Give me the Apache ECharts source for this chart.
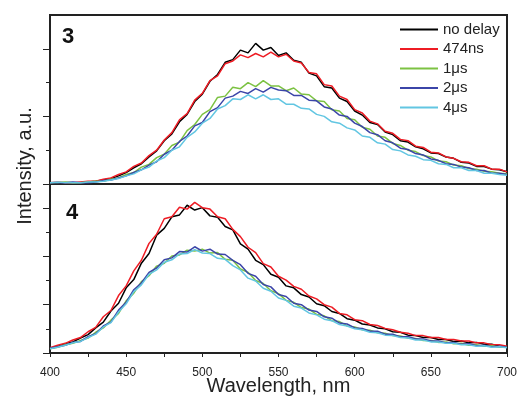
<!DOCTYPE html>
<html>
<head>
<meta charset="utf-8">
<script src="https://cdn.jsdelivr.net/npm/echarts@6/dist/echarts.min.js"></script>
<style>html,body{margin:0;padding:0;background:#fff}#c{width:517px;height:396px}</style>
</head>
<body>
<div id="c"></div>
<script>
var wavelengths = [400,405,410,415,420,425,430,435,440,445,450,455,460,465,470,475,480,485,490,495,500,505,510,515,520,525,530,535,540,545,550,555,560,565,570,575,580,585,590,595,600,605,610,615,620,625,630,635,640,645,650,655,660,665,670,675,680,685,690,695,700];
var seriesNames = ['no delay','474ns','1\u03bcs','2\u03bcs','4\u03bcs'];
var xTicks = [400,450,500,550,600,650,700];

// Panel 3 (top)
var p3_noDelay = [0.02,0.02,0.01,0.02,0.02,0.03,0.04,0.06,0.08,0.12,0.17,0.24,0.30,0.40,0.49,0.64,0.74,0.92,1.03,1.22,1.33,1.52,1.62,1.80,1.84,1.98,1.94,2.08,1.98,2.02,1.90,1.94,1.83,1.80,1.64,1.60,1.44,1.42,1.27,1.22,1.08,1.02,0.91,0.88,0.77,0.73,0.64,0.62,0.55,0.52,0.46,0.45,0.40,0.38,0.32,0.31,0.26,0.26,0.22,0.21,0.18];
var p3_474ns = [0.02,0.03,0.02,0.02,0.03,0.04,0.04,0.07,0.09,0.14,0.18,0.26,0.31,0.42,0.50,0.65,0.76,0.95,1.04,1.24,1.34,1.53,1.60,1.78,1.82,1.91,1.87,1.93,1.88,1.95,1.88,1.92,1.82,1.79,1.65,1.63,1.47,1.45,1.30,1.25,1.10,1.05,0.93,0.89,0.78,0.75,0.66,0.64,0.56,0.54,0.47,0.46,0.40,0.38,0.33,0.32,0.27,0.27,0.22,0.22,0.18];
var p3_1us = [0.02,0.02,0.03,0.02,0.02,0.03,0.04,0.04,0.07,0.09,0.14,0.17,0.25,0.29,0.39,0.44,0.57,0.62,0.79,0.88,1.03,1.10,1.28,1.30,1.43,1.41,1.50,1.44,1.53,1.45,1.45,1.38,1.42,1.33,1.32,1.23,1.22,1.10,1.08,0.97,0.95,0.84,0.81,0.71,0.69,0.60,0.57,0.50,0.48,0.42,0.40,0.34,0.33,0.28,0.27,0.23,0.22,0.19,0.18,0.16,0.15];
var p3_2us = [0.02,0.02,0.02,0.03,0.02,0.02,0.03,0.05,0.06,0.09,0.12,0.17,0.21,0.28,0.33,0.44,0.50,0.63,0.71,0.86,0.91,1.07,1.13,1.27,1.30,1.37,1.34,1.41,1.36,1.43,1.39,1.38,1.31,1.31,1.24,1.23,1.14,1.11,1.02,1.00,0.90,0.85,0.76,0.73,0.64,0.61,0.53,0.51,0.45,0.43,0.37,0.35,0.30,0.29,0.25,0.24,0.20,0.20,0.16,0.16,0.14];
var p3_4us = [0.02,0.03,0.02,0.02,0.02,0.03,0.03,0.04,0.06,0.08,0.12,0.15,0.21,0.25,0.34,0.39,0.50,0.55,0.69,0.77,0.90,0.97,1.11,1.16,1.26,1.25,1.32,1.26,1.32,1.25,1.26,1.18,1.18,1.12,1.11,1.03,1.00,0.92,0.90,0.83,0.80,0.71,0.69,0.61,0.59,0.51,0.49,0.43,0.41,0.36,0.35,0.30,0.29,0.24,0.24,0.20,0.20,0.16,0.16,0.14,0.13];

// Panel 4 (bottom)
var p4_noDelay = [0.10,0.13,0.19,0.23,0.31,0.38,0.52,0.64,0.87,1.03,1.35,1.52,1.86,2.06,2.44,2.58,2.82,2.86,3.06,2.96,3.01,2.84,2.81,2.62,2.55,2.26,2.15,1.92,1.83,1.63,1.57,1.39,1.35,1.21,1.16,1.02,0.98,0.86,0.82,0.71,0.68,0.60,0.58,0.52,0.50,0.44,0.43,0.37,0.36,0.32,0.32,0.28,0.28,0.24,0.25,0.21,0.22,0.18,0.18,0.14,0.13];
var p4_474ns = [0.11,0.16,0.20,0.27,0.32,0.44,0.53,0.75,0.88,1.19,1.39,1.70,1.92,2.27,2.46,2.78,2.82,3.02,2.98,3.12,3.01,2.98,2.82,2.78,2.56,2.41,2.19,2.08,1.85,1.78,1.59,1.51,1.38,1.32,1.18,1.12,1.00,0.95,0.82,0.79,0.69,0.67,0.59,0.57,0.51,0.48,0.43,0.41,0.36,0.36,0.32,0.32,0.28,0.28,0.25,0.25,0.21,0.21,0.17,0.17,0.14];
var p4_1us = [0.09,0.12,0.17,0.20,0.26,0.31,0.43,0.52,0.68,0.82,1.08,1.24,1.48,1.60,1.80,1.86,2.01,2.03,2.13,2.11,2.15,2.07,2.08,1.94,1.92,1.74,1.67,1.50,1.44,1.29,1.23,1.09,1.05,0.94,0.91,0.80,0.77,0.67,0.65,0.56,0.54,0.48,0.47,0.42,0.41,0.36,0.35,0.31,0.30,0.26,0.26,0.22,0.23,0.19,0.20,0.16,0.17,0.14,0.15,0.12,0.12];
var p4_2us = [0.10,0.13,0.16,0.22,0.24,0.34,0.40,0.56,0.64,0.89,1.05,1.31,1.45,1.67,1.76,1.93,1.97,2.10,2.09,2.20,2.11,2.15,2.05,2.04,1.92,1.83,1.65,1.59,1.42,1.37,1.21,1.17,1.03,1.00,0.89,0.86,0.75,0.72,0.62,0.60,0.52,0.51,0.45,0.45,0.39,0.39,0.33,0.34,0.29,0.29,0.25,0.25,0.21,0.22,0.18,0.19,0.15,0.16,0.13,0.14,0.12];
var p4_4us = [0.09,0.12,0.16,0.21,0.24,0.32,0.39,0.54,0.63,0.85,1.02,1.27,1.41,1.63,1.72,1.88,1.93,2.05,2.06,2.14,2.07,2.06,1.96,1.94,1.81,1.72,1.55,1.49,1.34,1.28,1.14,1.09,0.97,0.93,0.83,0.79,0.70,0.67,0.59,0.56,0.50,0.48,0.43,0.42,0.37,0.36,0.32,0.31,0.27,0.27,0.23,0.23,0.20,0.20,0.17,0.17,0.14,0.15,0.12,0.13,0.11];

var colors = ['#000000','#ee1c24','#7cc242','#3b45a8','#62c6e2'];
var font = '"Liberation Sans", Arial, sans-serif';

function pairs(ys){ return wavelengths.map(function(x,i){ return [x, ys[i]]; }); }

var panel3 = [p3_noDelay,p3_474ns,p3_1us,p3_2us,p3_4us];
var panel4 = [p4_noDelay,p4_474ns,p4_1us,p4_2us,p4_4us];

var series = [];
[panel3, panel4].forEach(function(panel, pi){
  panel.forEach(function(ys, si){
    series.push({
      type:'line', name: seriesNames[si], data: pairs(ys),
      xAxisIndex: pi, yAxisIndex: pi*2,
      symbol:'none', showSymbol:false, smooth:false,
      lineStyle:{color: colors[si], width:1.5},
      itemStyle:{color: colors[si]},
      z: 2 + si
    });
  });
});

function yAxes(gridIndex, max, majors, minors){
  return [{
    type:'value', gridIndex:gridIndex, min:0, max:max, position:'left',
    axisLine:{show:true, lineStyle:{color:'#222', width:2}},
    axisTick:{show:true, customValues: majors, length:7, lineStyle:{color:'#222', width:1}},
    axisLabel:{show:false}, splitLine:{show:false}
  },{
    type:'value', gridIndex:gridIndex, min:0, max:max, position:'left', offset:0,
    axisLine:{show:false},
    axisTick:{show:true, customValues: minors, length:4, lineStyle:{color:'#222', width:1}},
    axisLabel:{show:false}, splitLine:{show:false}
  }];
}

var option = {
  animation:false,
  backgroundColor:'#fff',
  color: colors,
  grid:[
    {left:50, top:15, width:457, height:169, show:true, borderColor:'#222', borderWidth:2, backgroundColor:'transparent', outerBoundsMode:'none', containLabel:false},
    {left:50, top:184, width:457, height:169, show:true, borderColor:'#222', borderWidth:2, backgroundColor:'transparent', outerBoundsMode:'none', containLabel:false}
  ],
  xAxis:[
    {type:'value', gridIndex:0, min:400, max:700, interval:50,
      axisLine:{show:true, lineStyle:{color:'#222', width:2}},
      axisTick:{show:false}, axisLabel:{show:false}, splitLine:{show:false}},
    {type:'value', gridIndex:1, min:400, max:700, interval:50,
      axisLine:{show:true, lineStyle:{color:'#222', width:2}},
      axisTick:{show:true, length:4, lineStyle:{color:'#222'}},
      minorTick:{show:true, splitNumber:2, length:4, lineStyle:{color:'#222'}},
      axisLabel:{show:true, margin:14, fontSize:12, color:'#222', fontFamily:font,
        customValues: xTicks},
      splitLine:{show:false},
      name:'Wavelength, nm', nameLocation:'middle', nameGap:23, nameMoveOverlap:false,
      nameTextStyle:{fontSize:20, color:'#222', fontFamily:font}}
  ],
  yAxis: yAxes(0, 2.5, [0,1,2], [0.5,1.5]).concat(yAxes(1, 3.5, [0,1,2,3], [0.5,1.5,2.5])),
  legend:{
    left:400, top:22, orient:'vertical', padding:0,
    data: seriesNames,
    icon:'rect', itemWidth:38, itemHeight:2, itemGap:4.5,
    textStyle:{fontSize:15, color:'#222', fontFamily:font, lineHeight:15},
    selectedMode:false
  },
  graphic:[
    {type:'text', left:62, top:26, style:{text:'3', font:'bold 22px ' + font, fill:'#111'}},
    {type:'text', left:66, top:202, style:{text:'4', font:'bold 22px ' + font, fill:'#111'}},
    {type:'text', x:25, y:166, rotation:Math.PI/2,
      style:{text:'Intensity, a.u.', font:'20px ' + font, fill:'#222', align:'center', verticalAlign:'middle'}}
  ],
  series: series
};

var chart = echarts.init(document.getElementById('c'), null, {renderer:'canvas'});
chart.setOption(option);
</script>
</body>
</html>
